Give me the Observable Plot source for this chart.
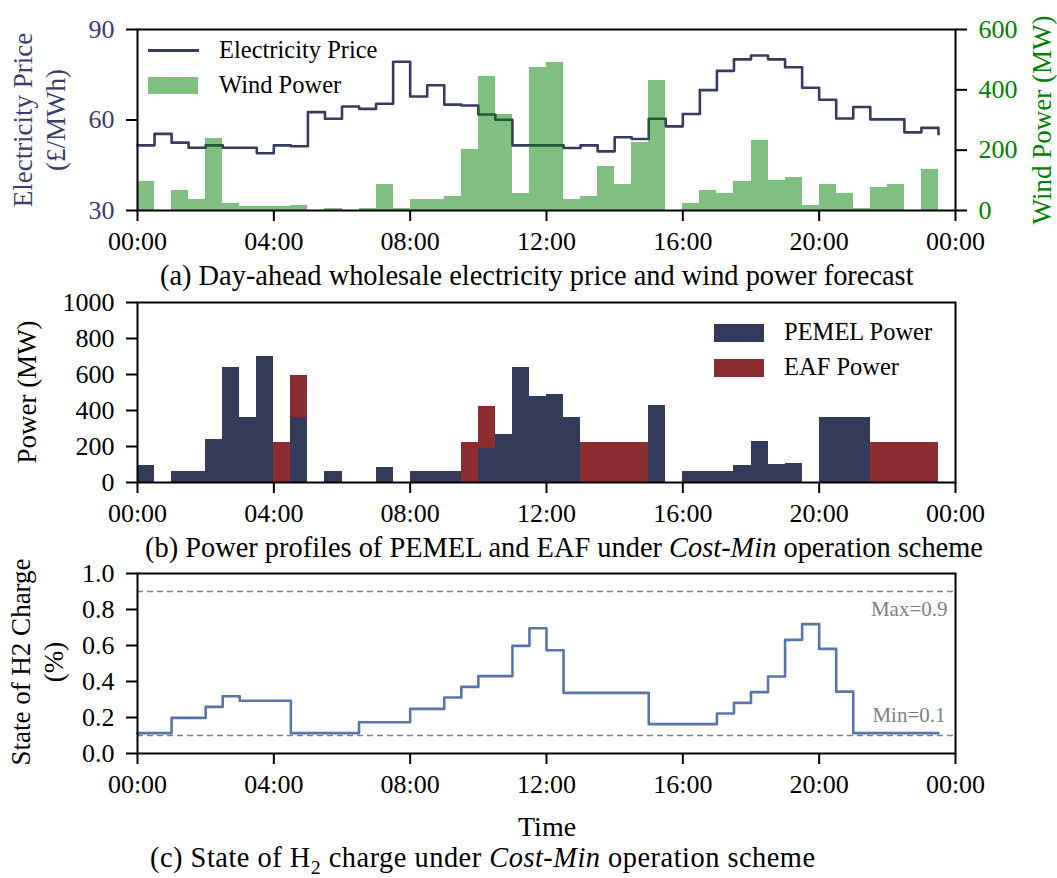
<!DOCTYPE html>
<html><head><meta charset="utf-8">
<script src="https://cdn.jsdelivr.net/npm/d3@7"></script>
<script src="https://cdn.jsdelivr.net/npm/@observablehq/plot@0.6"></script>
<style>
body{margin:0;background:white;}
#wrap{position:relative;width:1057px;height:878px;font-family:"Liberation Serif","Times New Roman",serif;color:black;overflow:hidden;}
.p{position:absolute;left:0;}
.t{position:absolute;white-space:nowrap;line-height:1;}
.rot{position:absolute;white-space:pre;text-align:center;line-height:1.22;transform:translate(-50%,-50%) rotate(-90deg);}
.sw{position:absolute;}
</style></head><body><div id="wrap"></div>
<script>
// ---- data (half-hour slots) ----
const hours = [0,0.5,1,1.5,2,2.5,3,3.5,4,4.5,5,5.5,6,6.5,7,7.5,8,8.5,9,9.5,10,10.5,11,11.5,
  12,12.5,13,13.5,14,14.5,15,15.5,16,16.5,17,17.5,18,18.5,19,19.5,20,20.5,21,21.5,22,22.5,23,23.5];
const priceGBP = [51.6,55.4,52.5,50.8,51.6,50.8,50.8,49.0,51.6,51.3,62.6,60.4,64.5,63.7,65.4,79.3,
  67.8,71.5,65.1,64.8,61.8,60.1,51.6,51.6,51.6,50.7,51.6,49.6,54.3,53.7,60.4,57.9,
  62.0,69.9,76.3,80.1,81.4,80.1,77.5,70.7,66.7,60.5,64.3,60.2,60.2,55.9,57.4,55.3];
const windMW = [95,0,66,36,240,23,12,12,12,16,0,5,0,5,86,5,
  36,36,46,201,445,319,56,475,489,36,47,146,87,225,430,0,
  22,66,56,96,231,101,111,16,86,56,5,77,86,0,136,0];
const pemelMW = [95,0,61,61,240,638,361,700,0,363,0,61,0,0,82,0,
  61,61,61,0,188,268,638,478,489,361,0,0,0,0,430,0,
  61,61,61,93,227,99,106,0,361,361,361,0,0,0,0,0];
const eafMW = [0,0,0,0,0,0,0,0,222,230,0,0,0,0,0,0,
  0,0,0,222,232,0,0,0,0,0,222,222,222,222,0,0,
  0,0,0,0,0,0,0,0,0,0,0,222,222,222,222,0];
const socH2 = [0.113,0.113,0.198,0.198,0.259,0.318,0.293,0.293,0.293,0.113,0.113,0.113,0.113,0.174,0.174,0.174,
  0.248,0.248,0.311,0.370,0.430,0.430,0.598,0.696,0.574,0.337,0.337,0.337,0.337,0.337,0.163,0.163,
  0.163,0.163,0.222,0.281,0.341,0.428,0.631,0.719,0.581,0.344,0.113,0.113,0.113,0.113,0.113,0.113];

const tickHours = [0,4,8,12,16,20,24];
const tickLabels = ["00:00","04:00","08:00","12:00","16:00","20:00","00:00"];
const priceDomain = [30,90];
const priceTicks = [30,60,90];
const windDomain = [0,600];
const windTicks = [0,200,400,600];
const powerTicks = [0,200,400,600,800,1000];
const socTicks = [0,0.2,0.4,0.6,0.8,1.0];
const socLimits = [0.9,0.1];
const socLimitLabels = ["Max=0.9","Min=0.1"];

// ---- styles ----
const FONT = '"Liberation Serif","Times New Roman",serif';
const priceColor = "#363b62";
const priceText = "#3a3d6c";
const windColor = "green";
const pemelColor = "#333a5a";
const eafColor = "#8b2c31";
const socColor = "#5875aa";
const slot = 0.5;

const rows = hours.map((t,i) => ({t, t2: t + slot, price: priceGBP[i], wind: windMW[i],
  pemel: pemelMW[i], eaf: eafMW[i], soc: socH2[i]}));
const windToPrice = w => priceDomain[0] + (w - windDomain[0]) * (priceDomain[1]-priceDomain[0]) / (windDomain[1]-windDomain[0]);
const priceToWind = p => Math.round(windDomain[0] + (p - priceDomain[0]) * (windDomain[1]-windDomain[0]) / (priceDomain[1]-priceDomain[0]));
const fmtX = d => tickLabels[tickHours.indexOf(d)];

const base = {width:1057, marginLeft:137, marginRight:102,
  style:{fontFamily:FONT, fontSize:"26px", background:"transparent", overflow:"visible"},
  x:{domain:[0,24]}};
const xAxis = () => Plot.axisX({ticks:tickHours, tickFormat:fmtX, tickSize:11, tickPadding:10, strokeWidth:2, label:null});

const wrap = document.getElementById("wrap");
function place(svg, top){ svg.classList.add("p"); svg.style.top = top+"px"; wrap.appendChild(svg); }

// Panel (a)
const pa = Plot.plot({...base, height:262, marginTop:29, marginBottom:52,
  y:{domain:priceDomain},
  marks:[
    Plot.line(rows, {x:"t", y:"price", curve:"step-after", stroke:priceColor, strokeWidth:2.6}),
    Plot.rect(rows.filter(d=>d.wind>0), {x1:"t", x2:"t2", y1:priceDomain[0], y2:d=>windToPrice(d.wind),
      fill:windColor, fillOpacity:0.5, inset:0, shapeRendering:"crispEdges"}),
    Plot.frame({stroke:"black", strokeWidth:2}),
    xAxis(),
    Plot.axisY({ticks:priceTicks, tickSize:11, tickPadding:12, stroke:"black", color:priceText, strokeWidth:2, label:null}),
    Plot.axisY({anchor:"right", ticks:windTicks.map(windToPrice), tickFormat:priceToWind, tickSize:11, tickPadding:12,
      stroke:"black", color:"green", strokeWidth:2, label:null})
  ]});
place(pa, 0);

// Panel (b)
const pb = Plot.plot({...base, height:272, marginTop:40, marginBottom:52,
  y:{domain:[0,1000]},
  marks:[
    Plot.rect(rows.filter(d=>d.pemel>0), {x1:"t", x2:"t2", y1:0, y2:"pemel", fill:pemelColor, inset:0, shapeRendering:"crispEdges"}),
    Plot.rect(rows.filter(d=>d.eaf>0), {x1:"t", x2:"t2", y1:"pemel", y2:d=>d.pemel+d.eaf, fill:eafColor, inset:0, shapeRendering:"crispEdges"}),
    Plot.frame({stroke:"black", strokeWidth:2}),
    xAxis(),
    Plot.axisY({ticks:powerTicks, tickFormat:d=>String(d), tickSize:11, tickPadding:12, strokeWidth:2, label:null})
  ]});
place(pb, 262);

// Panel (c)
const pc = Plot.plot({...base, height:344, marginTop:39, marginBottom:125,
  y:{domain:[0,1]},
  marks:[
    Plot.ruleY(socLimits, {stroke:"#808080", strokeWidth:1.5, strokeDasharray:"6,4"}),
    Plot.line(rows, {x:"t", y:"soc", curve:"step-after", stroke:socColor, strokeWidth:2.6}),
    Plot.text([socLimits[0]], {y:d=>d, text:()=>socLimitLabels[0], frameAnchor:"right", textAnchor:"end", dx:-8, dy:18, fill:"#808080", fontSize:21}),
    Plot.text([socLimits[1]], {y:d=>d, text:()=>socLimitLabels[1], frameAnchor:"right", textAnchor:"end", dx:-10, dy:-20, fill:"#808080", fontSize:21}),
    Plot.frame({stroke:"black", strokeWidth:2}),
    xAxis(),
    Plot.axisY({ticks:socTicks, tickFormat:d3.format(".1f"), tickSize:11, tickPadding:12, strokeWidth:2, label:null})
  ]});
place(pc, 534);

// ---- text & legends ----
function addText(html, left, top, size, extra){
  const d = document.createElement("div"); d.className="t"; d.innerHTML = html;
  d.style.left = left+"px"; d.style.top = top+"px"; d.style.fontSize = size+"px";
  if (extra) Object.assign(d.style, extra);
  wrap.appendChild(d); return d;
}
function addRot(text, cx, cy, size, color){
  const d = document.createElement("div"); d.className="rot"; d.textContent = text;
  d.style.left = cx+"px"; d.style.top = cy+"px"; d.style.fontSize = size+"px"; if (color) d.style.color = color;
  wrap.appendChild(d);
}
function addSwatch(left, top, w, h, style){
  const d = document.createElement("div"); d.className="sw";
  Object.assign(d.style, {left:left+"px", top:top+"px", width:w+"px", height:h+"px"}, style);
  wrap.appendChild(d);
}
// y labels
addRot("Electricity Price\n(£/MWh)", 40, 120, 27, priceText);
addRot("Wind Power (MW)", 1042, 120, 27, "green");
addRot("Power (MW)", 27, 392, 27);
addRot("State of H2 Charge\n(%)", 38, 662, 27);
// legend (a)
addSwatch(148, 49, 51, 2.6, {background:priceColor});
addText("Electricity Price", 219, 38, 24.5);
addSwatch(148, 77, 50, 17, {background:windColor, opacity:0.5});
addText("Wind Power", 219, 73, 24.5);
// legend (b)
addSwatch(714, 324, 50, 18, {background:pemelColor});
addText("PEMEL Power", 784, 320, 24.5);
addSwatch(714, 359, 50, 18, {background:eafColor});
addText("EAF Power", 784, 355, 24.5);
// captions
addText("(a) Day-ahead wholesale electricity price and wind power forecast", 160, 262, 28.4);
addText("(b) Power profiles of PEMEL and EAF under <i>Cost-Min</i> operation scheme", 145, 534, 28.4);
addText("Time", 518, 813, 28);
addText("(c) State of H<sub style=\"font-size:0.7em;line-height:0\">2</sub> charge under <i>Cost-Min</i> operation scheme", 150, 844, 28.4, {letterSpacing:"0.5px"});
</script></body></html>
